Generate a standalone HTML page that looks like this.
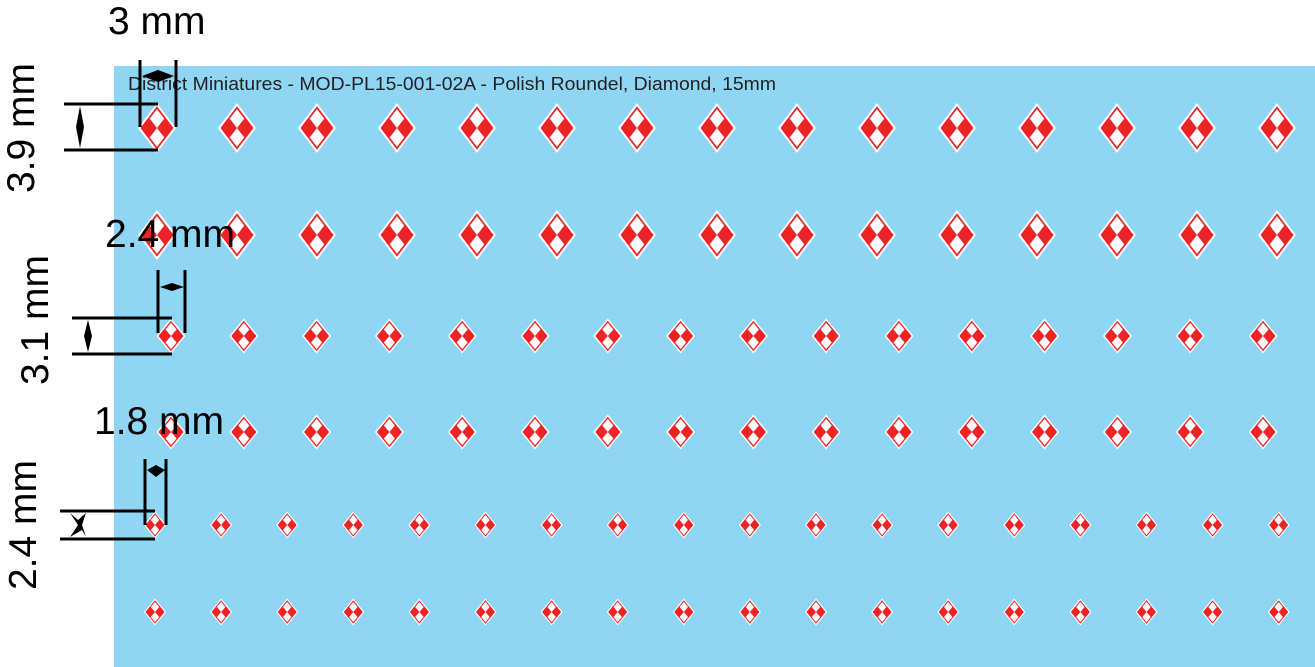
<!DOCTYPE html>
<html><head><meta charset="utf-8"><style>
html,body{margin:0;padding:0;background:#fff;}
svg{display:block;}
</style></head><body>
<svg id="s" width="1315" height="667" viewBox="0 0 1315 667" xmlns="http://www.w3.org/2000/svg">
<defs>
<symbol id="d" viewBox="-1.15 -1.15 2.3 2.3" preserveAspectRatio="none">
<polygon points="0,-1.15 1.15,0 0,1.15 -1.15,0" fill="#fff"/>
<polygon points="0,-1 1,0 0,1 -1,0" fill="#ee2326"/>
<polygon points="0,-0.86 0.44,-0.43 0,0 -0.44,-0.43" fill="#fff"/>
<polygon points="0,0.86 0.44,0.43 0,0 -0.44,0.43" fill="#fff"/>
</symbol>
</defs>
<rect x="114" y="66" width="1201" height="601" fill="#8fd6f5"/>
<text x="128" y="90" font-family="Liberation Sans, sans-serif" font-size="18" textLength="648" lengthAdjust="spacingAndGlyphs" fill="#222">District Miniatures - MOD-PL15-001-02A  - Polish Roundel, Diamond, 15mm</text>
<g id="g"></g>
<g stroke="#000" stroke-width="3" fill="none">
<line x1="64" y1="104" x2="158" y2="104"/><line x1="64" y1="150" x2="158" y2="150"/>
<line x1="140" y1="60" x2="140" y2="127"/><line x1="176" y1="60" x2="176" y2="127"/>
<line x1="72" y1="318" x2="172" y2="318"/><line x1="72" y1="354" x2="172" y2="354"/>
<line x1="158" y1="270" x2="158" y2="333"/><line x1="185" y1="270" x2="185" y2="333"/>
<line x1="60" y1="511" x2="155" y2="511"/><line x1="60" y1="539" x2="155" y2="539"/>
<line x1="145" y1="459" x2="145" y2="525"/><line x1="166" y1="459" x2="166" y2="525"/>
</g>
<g fill="#000">
<polygon points="80,106 84,127 80,148 76,127"/>
<polygon points="142,76 158,70 174,76 158,82"/>
<polygon points="88,320 92,336 88,352 84,336"/>
<polygon points="160,287 172,283 184,287 172,291"/>
<polygon points="70,513 78,525 70,537 82,530 86,537 82,525 86,513 78,520"/>
<polygon points="147,470 156,465 165,470 156,477"/>
</g>
<g font-family="Liberation Sans, sans-serif" font-size="39" fill="#000">
<text x="108" y="34">3 mm</text>
<text x="105" y="247">2.4 mm</text>
<text x="94" y="434">1.8 mm</text>
<text transform="translate(34,128) rotate(-90)" text-anchor="middle">3.9 mm</text>
<text transform="translate(48,320) rotate(-90)" text-anchor="middle">3.1 mm</text>
<text transform="translate(36,525) rotate(-90)" text-anchor="middle">2.4 mm</text>
</g>
</svg>
<script>
var g=document.getElementById('g'),h='';
function row(x0,step,n,y,w,hh){for(var i=0;i<n;i++){var x=x0+i*step;h+='<use href="#d" x="'+(x-w/2)+'" y="'+(y-hh/2)+'" width="'+w+'" height="'+hh+'"/>';}}
row(157,80,15,128,38,50);
row(157,80,15,235,38,50);
row(171,72.8,16,336,29,35);
row(171,72.8,16,432,29,35);
row(155,66.1,18,525,22,27);
row(155,66.1,18,612,22,27);
g.innerHTML=h;
</script>
</body></html>
